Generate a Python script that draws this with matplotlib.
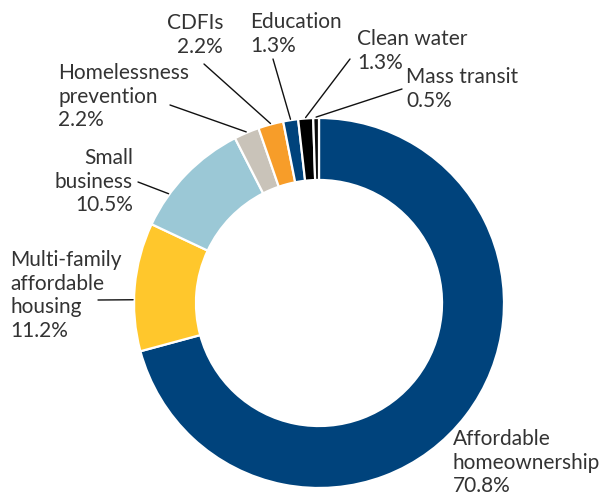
import matplotlib
matplotlib.use("Agg")
import matplotlib.pyplot as plt
import numpy as np

# ---- data ----
categories = ["Affordable\nhomeownership", "Multi-family\naffordable\nhousing", "Small\nbusiness",
              "Homelessness\nprevention", "CDFIs", "Education", "Clean water", "Mass transit"]
values = [70.8, 11.2, 10.5, 2.2, 2.2, 1.3, 1.3, 0.5]
colors = ["#00437c", "#ffc72c", "#9bc8d6", "#c9c3b9", "#f79d29", "#00437c", "#000000", "#0a0a0a"]

# ---- layout (pixels) ----
W, H = 609, 498
cx, cy, R = 319, 303, 185
# label anchor (x, top y, ha), leader start (x,y) or None, leader end angle override or None
label_layout = [
    (453, 429, "left", None, None),
    (10, 250, "left", (98, 300), 179),
    (133, 148, "right", (138, 182), 144),
    (58, 63, "left", (170, 105), None),
    (223, 13, "right", (204, 64), None),
    (250, 12, "left", (273, 59), None),
    (357, 29, "left", (350, 59), None),
    (406, 67, "left", (402, 89), None),
]

plt.rcParams['font.family'] = ['Lato', 'DejaVu Sans']
fig = plt.figure(figsize=(W / 100, H / 100), dpi=100)
ax = fig.add_axes([(cx - R) / W, (H - cy - R) / H, 2 * R / W, 2 * R / H])
wedges, _ = ax.pie(values, colors=colors, startangle=90, counterclock=False, radius=1.0,
                   wedgeprops=dict(width=0.335, edgecolor="white", linewidth=1.6))
ax.set_xlim(-1, 1)
ax.set_ylim(-1, 1)
ax.set_aspect("equal")
ax.axis("off")

txtcolor = "#333333"
for cat, val, w, (lx, ly, ha, start, ang) in zip(categories, values, wedges, label_layout):
    label = f"{cat}\n{val:.1f}%"
    fig.text(lx / W, 1 - ly / H, label, ha=ha, va="top", fontsize=15,
             color=txtcolor, linespacing=1.22)
    if start is not None:
        a = ang if ang is not None else (w.theta1 + w.theta2) / 2
        ex, ey = np.cos(np.deg2rad(a)) * 1.005, np.sin(np.deg2rad(a)) * 1.005
        ax.annotate("", xy=(ex, ey), xycoords="data",
                    xytext=(start[0], H - start[1]), textcoords="figure pixels",
                    arrowprops=dict(arrowstyle="-", color="#111111", lw=1.0,
                                    shrinkA=0, shrinkB=0),
                    annotation_clip=False)

fig.savefig("out.png", dpi=100)
